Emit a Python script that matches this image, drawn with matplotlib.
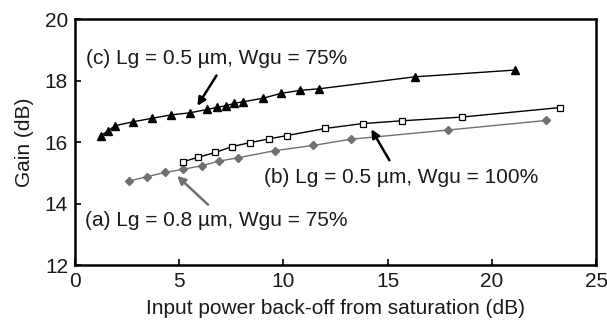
import matplotlib
matplotlib.use("Agg")
import matplotlib.pyplot as plt

plt.rcParams['font.family'] = ['Liberation Sans', 'DejaVu Sans']

# Series (c) Lg = 0.5 um, Wgu = 75%
xc = [1.23, 1.6, 1.92, 2.8, 3.68, 4.6, 5.52, 6.35, 6.83, 7.25, 7.65, 8.08, 9.0, 9.87, 10.8, 11.7, 16.31, 21.11]
yc = [16.2, 16.37, 16.53, 16.66, 16.77, 16.88, 16.95, 17.06, 17.13, 17.18, 17.26, 17.31, 17.42, 17.58, 17.68, 17.73, 18.12, 18.34]
# Series (b) Lg = 0.5 um, Wgu = 100%
xb = [5.2, 5.89, 6.73, 7.53, 8.4, 9.29, 10.17, 12.0, 13.8, 15.7, 18.55, 23.27]
yb = [15.36, 15.5, 15.66, 15.85, 15.98, 16.1, 16.21, 16.44, 16.6, 16.69, 16.81, 17.12]
# Series (a) Lg = 0.8 um, Wgu = 75%
xa = [2.59, 3.44, 4.32, 5.17, 6.08, 6.92, 7.84, 9.6, 11.44, 13.23, 17.9, 22.6]
ya = [14.73, 14.87, 15.01, 15.11, 15.23, 15.38, 15.49, 15.72, 15.89, 16.09, 16.39, 16.7]

xticks = [0, 5, 10, 15, 20, 25]
yticks = [12, 14, 16, 18, 20]

fig = plt.figure(figsize=(6.07, 3.25), dpi=100)
ax = fig.add_axes([0.1236, 0.1846, 0.8584, 0.7569])

gray = '#707070'
txt = '#1a1a1a'
ax.plot(xa, ya, color=gray, lw=1.0, marker='D', ms=4, mfc=gray, mec=gray)
ax.plot(xb, yb, color='black', lw=1.0, marker='s', ms=4.5, mfc='white', mec='black', mew=0.9)
ax.plot(xc, yc, color='black', lw=1.0, marker='^', ms=5.5, mfc='black', mec='black')

ax.set_xlim(0, 25)
ax.set_ylim(12, 20)
ax.set_xticks(xticks)
ax.set_yticks(yticks)
ax.tick_params(direction='in', length=4, width=1.2, labelsize=15, labelcolor=txt)
ax.tick_params(axis='x', pad=5)
ax.tick_params(axis='y', pad=5)
for s in ax.spines.values():
    s.set_linewidth(1.8)

ax.set_xlabel('Input power back-off from saturation (dB)', fontsize=15, labelpad=6, color=txt)
ax.set_ylabel('Gain (dB)', fontsize=15, labelpad=8, color=txt)

fs = 15
ax.text(0.53, 18.73, '(c) Lg = 0.5 µm, Wgu = 75%', fontsize=fs, va='center', ha='left', color=txt)
ax.annotate('', xy=(5.8, 17.1), xytext=(6.86, 18.24),
            arrowprops=dict(arrowstyle='-|>', color='black', lw=1.8, mutation_scale=12))
ax.text(9.05, 14.83, '(b) Lg = 0.5 µm, Wgu = 100%', fontsize=fs, va='center', ha='left', color=txt)
ax.annotate('', xy=(14.15, 16.49), xytext=(15.15, 15.33),
            arrowprops=dict(arrowstyle='-|>', color='black', lw=1.8, mutation_scale=12))
ax.text(0.48, 13.46, '(a) Lg = 0.8 µm, Wgu = 75%', fontsize=fs, va='center', ha='left', color=txt)
ax.annotate('', xy=(4.8, 14.96), xytext=(6.48, 13.9),
            arrowprops=dict(arrowstyle='-|>', color=gray, lw=1.8, mutation_scale=12))

fig.savefig('out.png', dpi=100)
